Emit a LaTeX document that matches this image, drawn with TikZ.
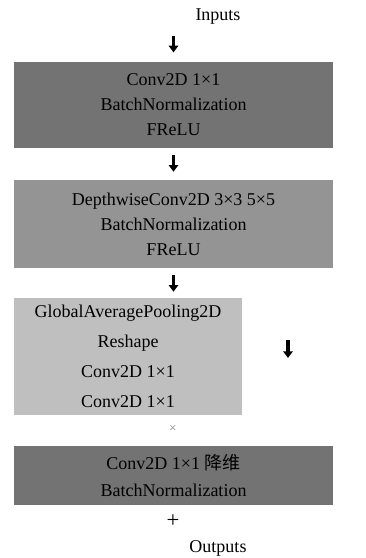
\documentclass[tikz,border=0pt]{standalone}
\usepackage{fontspec}
\setmainfont{Liberation Serif}
\newfontfamily\cjk{Noto Sans CJK SC}
\usetikzlibrary{arrows.meta}

\begin{document}
\begin{tikzpicture}[x=0.75pt, y=-0.75pt,
  every node/.style={font=\fontsize{13.5}{18.75}\selectfont, inner sep=0pt},
  blk/.style={minimum width=239.25pt, align=center},
  seta/.style={-{Triangle[length=5pt, width=7pt]}, line width=2.8pt}]
  \useasboundingbox (0,0) rectangle (366,558);
  % entrada
  \node (inputs) at (218,17) {Inputs};
  \coordinate (in) at (173.5,36);
  % blocos
  \node[blk, fill=black!55, minimum height=64.5pt] (conv) at (173.5,105)
    {Conv2D 1×1\\BatchNormalization\\FReLU};
  \node[blk, fill=black!42, minimum height=66pt] (dw) at (173.5,224)
    {DepthwiseConv2D 3×3 5×5\\BatchNormalization\\FReLU};
  \node[blk, fill=black!25, minimum width=171pt, minimum height=87.75pt,
    font=\fontsize{13.5}{22.5}\selectfont] (se) at (128,356.5)
    {GlobalAveragePooling2D\\Reshape\\Conv2D 1×1\\Conv2D 1×1};
  \node[blk, fill=black!55, minimum height=44.25pt,
    font=\fontsize{13.5}{20.25}\selectfont] (proj) at (173.5,475.5)
    {Conv2D 1×1 {\cjk 降维}\\BatchNormalization};
  % operadores
  \node[text=black!45, font=\fontsize{10}{12}\selectfont] (mult) at (173,429) {×};
  \node[font=\fontsize{17}{17}\selectfont] (soma) at (173,521) {+};
  \node (outputs) at (218,548) {Outputs};
  % setas
  \draw[seta, shorten >=7pt] (in) -- (conv.north);
  \draw[seta, shorten <=5.25pt, shorten >=6pt] (conv.south) -- (dw.north);
  \draw[seta, shorten <=5.25pt, shorten >=4.5pt] (dw.south) -- (dw.south |- se.north);
  \coordinate (lado) at (288,340);
  \draw[seta] (lado) -- ++(0,18);
\end{tikzpicture}
\end{document}
